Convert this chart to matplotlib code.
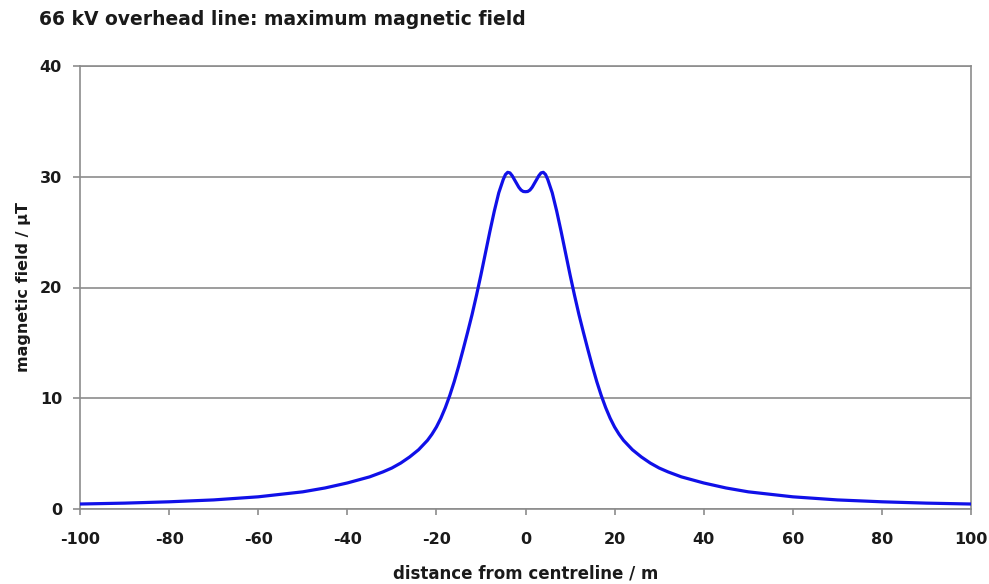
import matplotlib
matplotlib.use("Agg")
import matplotlib.pyplot as plt

# distance from centreline (m) and maximum magnetic field (uT)
distance = [-100, -90, -80, -70, -60, -50, -45, -40, -35, -32, -30, -28, -26,
            -24, -22, -21, -20, -19, -18, -17, -16, -15, -14, -13, -12, -11,
            -10, -9, -8, -7, -6, -5, -4.5, -4, -3.5, -3, -2.5, -2, -1.5, -1,
            -0.5, 0,
            0.5, 1, 1.5, 2, 2.5, 3, 3.5, 4, 4.5, 5, 6, 7, 8, 9, 10, 11, 12,
            13, 14, 15, 16, 17, 18, 19, 20, 21, 22, 24, 26, 28, 30, 32, 35,
            40, 45, 50, 60, 70, 80, 90, 100]
field = [0.45, 0.53, 0.65, 0.82, 1.1, 1.55, 1.9, 2.35, 2.9, 3.35, 3.7, 4.15,
         4.7, 5.35, 6.2, 6.75, 7.4, 8.2, 9.15, 10.25, 11.5, 12.9, 14.4, 15.95,
         17.55, 19.3, 21.15, 23.1, 25.05, 26.9, 28.55, 29.75, 30.2, 30.4,
         30.35, 30.1, 29.75, 29.4, 29.05, 28.8, 28.67, 28.65,
         28.67, 28.8, 29.05, 29.4, 29.75, 30.1, 30.35, 30.4, 30.2, 29.75,
         28.55, 26.9, 25.05, 23.1, 21.15, 19.3, 17.55, 15.95, 14.4, 12.9,
         11.5, 10.25, 9.15, 8.2, 7.4, 6.75, 6.2, 5.35, 4.7, 4.15, 3.7, 3.35,
         2.9, 2.35, 1.9, 1.55, 1.1, 0.82, 0.65, 0.53, 0.45]

x_ticks = [-100, -80, -60, -40, -20, 0, 20, 40, 60, 80, 100]
y_ticks = [0, 10, 20, 30, 40]

title = "66 kV overhead line: maximum magnetic field"
x_label = "distance from centreline / m"
y_label = "magnetic field / \u00b5T"

plt.rcParams['font.family'] = ['DejaVu Sans']
plt.rcParams['font.weight'] = 'bold'
plt.rcParams['axes.unicode_minus'] = False

fig = plt.figure(figsize=(9.89, 5.84), dpi=100)
ax = fig.add_axes([80 / 989, 75 / 584, 891 / 989, 443 / 584])

grey = '#8c8c8c'
ink = '#1a1a1a'
ax.plot(distance, field, color='#1010e8', lw=2.3, solid_capstyle='round',
        solid_joinstyle='round', zorder=3)

ax.set_xlim(-100, 100)
ax.set_ylim(0, 40)
ax.set_xticks(x_ticks)
ax.set_yticks(y_ticks)
ax.yaxis.grid(True, color=grey, lw=1.2)
ax.set_axisbelow(True)

for side in ax.spines.values():
    side.set_color(grey)
    side.set_linewidth(1.2)

ax.tick_params(axis='x', direction='out', length=4.5, width=1.2, color=grey,
               pad=12, labelsize=11.5, labelcolor=ink)
ax.tick_params(axis='y', direction='out', length=5, width=1.2, color=grey,
               pad=8, labelsize=11.5, labelcolor=ink)

ax.set_xlabel(x_label, fontsize=12, fontweight='bold', labelpad=13,
              color=ink)
ax.set_ylabel(y_label, fontsize=11.5, fontweight='bold', labelpad=6,
              color=ink)

fig.text(39 / 989, 1 - 25 / 584, title, fontsize=13.5, fontweight='bold',
         va='baseline', ha='left', color=ink)

fig.savefig("out.png", dpi=100)
